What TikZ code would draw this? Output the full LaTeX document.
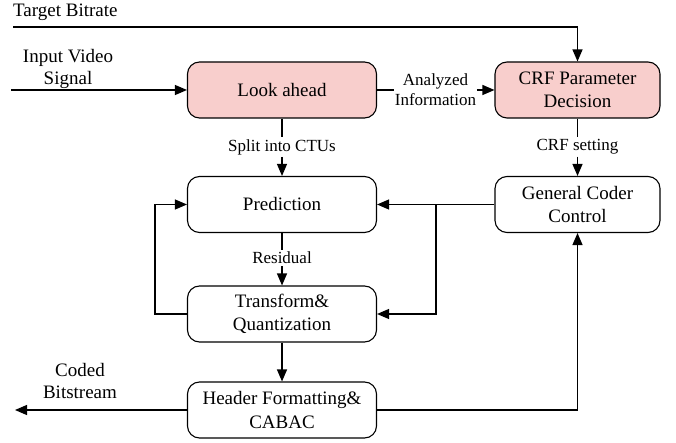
\documentclass[tikz,border=0pt]{standalone}
\usepackage{fontspec}
\setmainfont{Liberation Serif}
\usetikzlibrary{arrows.meta}

\definecolor{boxpink}{RGB}{248,206,204}

\tikzset{
  blk/.style={draw, line width=1.1pt, rounded corners=12pt, align=center,
    minimum width=189pt, minimum height=56pt, inner sep=0pt,
    font=\rmfamily\fontsize{19}{23.5}\selectfont},
  pinkblk/.style={blk, fill=boxpink},
  lbl/.style={align=center, inner sep=2pt, font=\rmfamily\fontsize{17}{20}\selectfont},
  outer/.style={align=center, inner sep=0pt, font=\rmfamily\fontsize{19}{22}\selectfont},
  arr/.style={line width=1.2pt, -{Triangle[length=12pt,width=10pt]}},
  ln/.style={line width=1.2pt}
}

\begin{document}
\begin{tikzpicture}[x=1pt, y=-1pt]
  \useasboundingbox (0,0) rectangle (676,443);

  % Blocks
  \node[pinkblk] (look) at (282,90) {Look ahead};
  \node[pinkblk, minimum width=165pt] (crf) at (577.5,90) {CRF Parameter\\Decision};
  \node[blk] (pred) at (282,204.5) {Prediction};
  \node[blk, minimum width=165pt] (gcc) at (577.5,204.5) {General Coder\\Control};
  \node[blk] (tq) at (282,314) {Transform\&\\Quantization};
  \node[blk] (hdr) at (282,410) {Header Formatting\&\\CABAC};

  % Outside inputs and output
  \node[outer, anchor=west] (target) at (13,12) {Target Bitrate};
  \node[outer] (input) at (68,69) {Input Video\\Signal};
  \node[outer] (coded) at (80,380.5) {Coded\\Bitstream};

  % Labels on the links
  \node[lbl, inner sep=0.5pt] (analyzed) at (435.5,90) {Analyzed\\Information};
  \node[lbl] (split) at (282,147) {Split into CTUs};
  \node[lbl] (crfset) at (577.5,147) {CRF setting};
  \node[lbl] (resid) at (282,258) {Residual};

  % Free ends and bends
  \coordinate (tbstart) at (13,27);
  \coordinate (inpstart) at (11,90);
  \coordinate (outend) at (15,410);
  \coordinate (lp) at (155,314);
  \coordinate (br) at (436,204.5);

  % Top row
  \draw[arr] (tbstart) -| (crf.north);
  \draw[arr] (inpstart) -- (look.west);
  \draw[ln] (look.east) -- (analyzed.west);
  \draw[arr] (analyzed.east) -- (crf.west);

  % Down the chain
  \draw[ln] (look.south) -- (split.north);
  \draw[arr] (split.south) -- (pred.north);
  \draw[ln] (crf.south) -- (crfset.north);
  \draw[arr] (crfset.south) -- (gcc.north);
  \draw[ln] (pred.south) -- (resid.north);
  \draw[arr] (resid.south) -- (tq.north);
  \draw[arr] (tq.south) -- (hdr.north);

  % Control and feedback
  \draw[arr] (gcc.west) -- (pred.east);
  \draw[arr] (br) |- (tq.east);
  \draw[arr] (tq.west) -- (lp) |- (pred.west);
  \draw[arr] (hdr.west) -- (outend);
  \draw[arr] (hdr.east) -| (gcc.south);

\end{tikzpicture}
\end{document}
